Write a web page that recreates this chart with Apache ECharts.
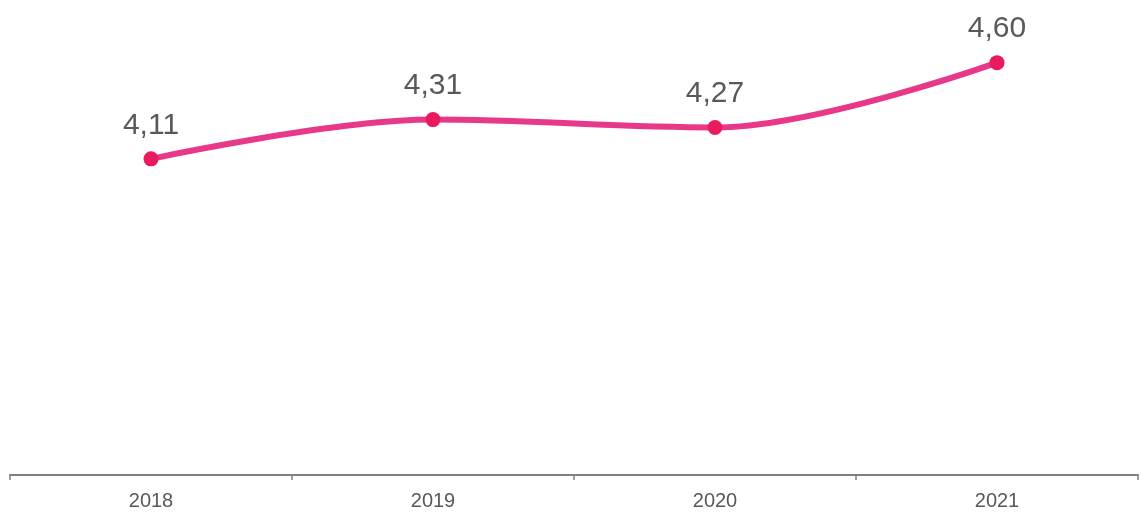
<!DOCTYPE html>
<html><head><meta charset="utf-8">
<script src="https://cdn.jsdelivr.net/npm/echarts@6/dist/echarts.min.js"></script>
<style>html,body{margin:0;padding:0;background:#fff}#c{width:1143px;height:513px}</style>
</head><body><div id="c"></div>
<script>
var categories = ['2018', '2019', '2020', '2021'];
var values = [4.11, 4.31, 4.27, 4.60];
var labels = ['4,11', '4,31', '4,27', '4,60'];

var chart = echarts.init(document.getElementById('c'), null, {renderer: 'canvas'});
chart.setOption({
  animation: false,
  grid: {left: 10, right: 5, top: 43, bottom: 38, containLabel: false},
  xAxis: {
    type: 'category', data: categories, boundaryGap: true,
    axisLine: {lineStyle: {color: '#808080', width: 2}},
    axisTick: {show: true, length: 5, lineStyle: {color: '#808080', width: 1.5}},
    axisLabel: {color: '#595959', fontSize: 20, fontFamily: 'Liberation Sans, Arial, sans-serif', margin: 16}
  },
  yAxis: {
    type: 'value', min: 2.5, max: 4.7, show: false, splitLine: {show: false}
  },
  series: [{
    type: 'line', data: values, smooth: 0.35,
    lineStyle: {color: '#E8388A', width: 6},
    symbol: 'circle', symbolSize: 15,
    itemStyle: {color: '#EA1A5E'},
    label: {
      show: true, position: 'top', distance: 11,
      formatter: function(p){ return labels[p.dataIndex]; },
      color: '#595959', fontSize: 30, fontFamily: 'Liberation Sans, Arial, sans-serif'
    }
  }]
});
</script></body></html>
